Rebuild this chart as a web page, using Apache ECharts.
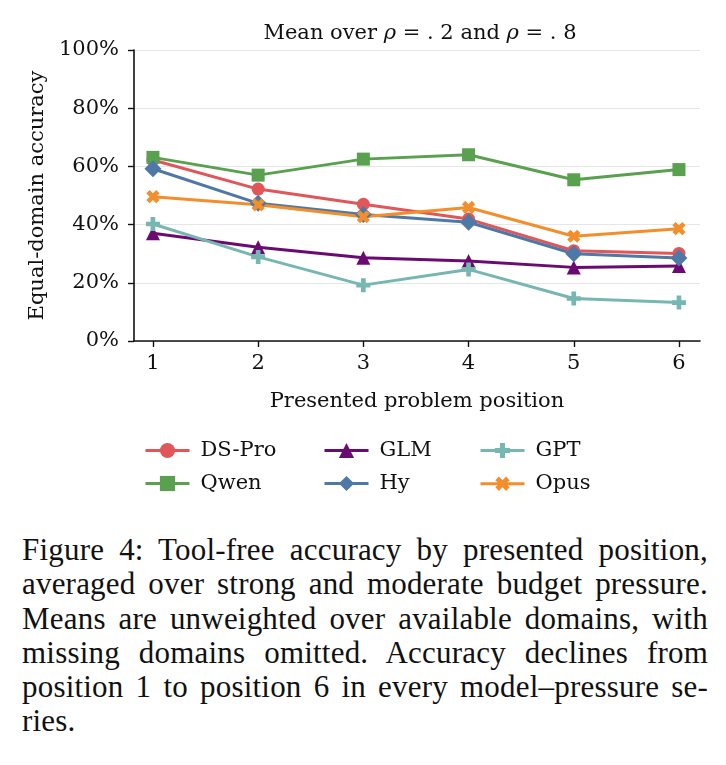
<!DOCTYPE html>
<html>
<head>
<meta charset="utf-8">
<script src="https://cdn.jsdelivr.net/npm/echarts@6/dist/echarts.min.js"></script>
<style>
  html, body { margin: 0; padding: 0; background: #fff; }
  #chart { position: absolute; left: 0; top: 0; width: 726px; height: 520px; }
  #caption {
    position: absolute; left: 22px; top: 533px; width: 686px;
    font-family: "Liberation Serif", serif; font-size: 31px; line-height: 34.3px; color: #111;
    letter-spacing: 0.2px;
  }
  #caption div { text-align: justify; text-align-last: justify; white-space: nowrap; }
  #caption div.last { text-align-last: left; }
</style>
</head>
<body>
<div id="chart"></div>
<div id="caption">
  <div>Figure 4: Tool-free accuracy by presented position,</div>
  <div>averaged over strong and moderate budget pressure.</div>
  <div>Means are unweighted over available domains, with</div>
  <div>missing domains omitted. Accuracy declines from</div>
  <div>position 1 to position 6 in every model–pressure se-</div>
  <div class="last">ries.</div>
</div>
<script>
// presented positions
const positions = [1, 2, 3, 4, 5, 6]
const yTicks = [0, 20, 40, 60, 80, 100]

// equal-domain accuracy (%) per model
const dsPro = [62.2, 52.2, 47.0, 41.9, 31.0, 30.1]
const qwen = [63.1, 57.0, 62.5, 64.0, 55.4, 58.9]
const glm = [37.0, 32.2, 28.6, 27.5, 25.3, 25.8]
const hy = [59.2, 47.3, 43.5, 40.8, 30.0, 28.5]
const gpt = [40.2, 28.9, 19.2, 24.6, 14.6, 13.2]
const opus = [49.6, 46.8, 42.7, 45.9, 36.0, 38.6]

const serif = '"DejaVu Serif", serif'
const fs = 21
const plusPath = 'path://M2,0H4V2H6V4H4V6H2V4H0V2H2Z'

function pairs(vals) {
  return vals.map((v, i) => [positions[i], v])
}

function mkSeries(name, vals, color, symbol, size, rotate) {
  return {
    name: name,
    type: 'line',
    data: pairs(vals),
    symbol: symbol,
    symbolSize: size,
    symbolRotate: rotate || 0,
    lineStyle: { width: 3, color: color },
    itemStyle: { color: color, borderWidth: 0 },
    emphasis: { disabled: true },
    animation: false
  }
}

const chart = echarts.init(document.getElementById('chart'), null, { renderer: 'canvas' })

function mkLegend(left, names) {
  return {
    orient: 'vertical',
    left: left,
    top: 435,
    data: names,
    itemWidth: 44,
    itemHeight: 19,
    itemGap: 12,
    lineStyle: { width: 3 },
    textStyle: { fontFamily: serif, fontSize: fs, color: '#111', padding: [0, 0, 0, 6] },
    selectedMode: false
  }
}

const option = {
  backgroundColor: '#fff',
  title: {
    text: 'Mean over {i|ρ} = . 2 and {i|ρ} = . 8',
    left: 415,
    textAlign: 'center',
    top: 18,
    textStyle: {
      fontFamily: serif, fontSize: fs, fontWeight: 'normal', color: '#111',
      rich: { i: { fontFamily: serif, fontSize: fs, fontStyle: 'italic', color: '#111' } }
    }
  },
  grid: { left: 134, right: 26, top: 50, bottom: 179, containLabel: false },
  legend: [
    mkLegend(139, ['DS-Pro', 'Qwen']),
    mkLegend(318, ['GLM', 'Hy']),
    mkLegend(474, ['GPT', 'Opus'])
  ],
  xAxis: {
    type: 'value',
    min: 0.82,
    max: 6.2,
    name: 'Presented problem position',
    nameLocation: 'middle',
    nameGap: 50,
    nameTextStyle: { fontFamily: serif, fontSize: fs, color: '#111' },
    axisLine: { show: true, lineStyle: { color: '#111', width: 1.6 } },
    axisTick: { show: true, length: 6, lineStyle: { color: '#111', width: 1.4 }, customValues: positions },
    axisLabel: { fontFamily: serif, fontSize: fs, color: '#111', margin: 12, customValues: positions },
    splitLine: { show: false }
  },
  yAxis: {
    type: 'value',
    min: 0,
    max: 100,
    interval: 20,
    name: 'Equal-domain accuracy',
    nameLocation: 'middle',
    nameGap: 86,
    nameTextStyle: { fontFamily: serif, fontSize: fs, color: '#111' },
    axisLine: { show: true, lineStyle: { color: '#111', width: 1.6 } },
    axisTick: { show: true, length: 6, lineStyle: { color: '#111', width: 1.4 } },
    axisLabel: {
      fontFamily: serif, fontSize: fs, color: '#111', margin: 15,
      formatter: v => yTicks.includes(v) ? v + '%' : ''
    },
    splitLine: { show: true, lineStyle: { color: '#e6e6e6', width: 1.2 } }
  },
  series: [
    mkSeries('DS-Pro', dsPro, '#e15759', 'circle', 13),
    mkSeries('Qwen', qwen, '#59a14f', 'rect', 13),
    mkSeries('GLM', glm, '#6b0a72', 'triangle', 14),
    mkSeries('Hy', hy, '#4e79a7', 'diamond', 17),
    mkSeries('GPT', gpt, '#76b7b2', plusPath, 14),
    mkSeries('Opus', opus, '#f28e2b', plusPath, 14, 45)
  ]
}

chart.setOption(option)
</script>
</body>
</html>
